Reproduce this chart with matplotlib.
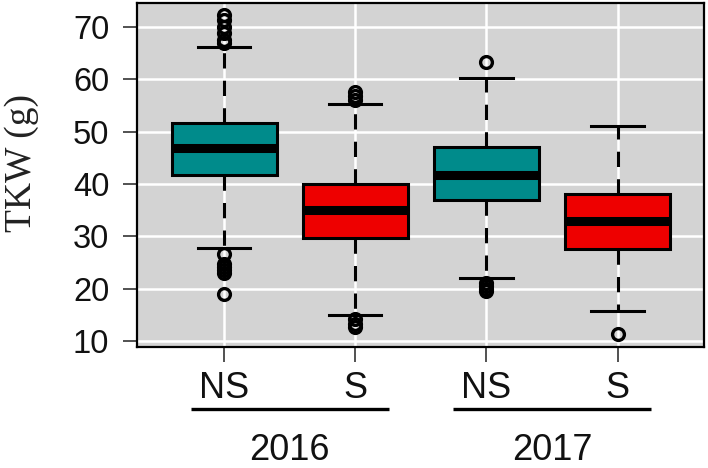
import matplotlib
matplotlib.use("Agg")
import matplotlib.pyplot as plt
import matplotlib.transforms as mtransforms

# ---- data ----
groups = ["NS", "S", "NS", "S"]
years = ["2016", "2017"]
q1 = [41.8, 29.7, 36.9, 27.5]
medians = [46.8, 35.0, 41.8, 32.9]
q3 = [51.6, 40.0, 47.1, 38.0]
whislo = [27.8, 15.1, 22.1, 15.7]
whishi = [66.2, 55.2, 60.2, 51.1]
fliers = [
    [72.3, 71.3, 70.0, 68.8, 67.5, 66.9, 26.6, 24.8, 24.2, 23.6, 23.1, 19.0],
    [57.6, 56.8, 56.0, 14.2, 13.3, 12.8],
    [63.3, 21.2, 20.5, 20.0, 19.6],
    [11.4],
]
colors = ["#008B8B", "#EE0000", "#008B8B", "#EE0000"]
yticks = [10, 20, 30, 40, 50, 60, 70]

positions = [1, 2, 3, 4]

fig = plt.figure(figsize=(7.08, 4.68), dpi=100)
ax = fig.add_axes([0.1935, 0.2585, 0.801, 0.735])
ax.set_facecolor("#D3D3D3")

stats = []
for i in range(len(groups)):
    stats.append(dict(q1=q1[i], med=medians[i], q3=q3[i],
                      whislo=whislo[i], whishi=whishi[i], fliers=fliers[i]))

bp = ax.bxp(stats, positions=positions, widths=0.8, capwidths=0.4,
            patch_artist=True, showfliers=True,
            boxprops=dict(edgecolor="black", linewidth=2.2),
            medianprops=dict(color="black", linewidth=6.5, solid_capstyle="butt"),
            whiskerprops=dict(color="black", linewidth=2.2, linestyle=(0, (5, 4))),
            capprops=dict(color="black", linewidth=2.2),
            flierprops=dict(marker="o", markersize=8.5, markerfacecolor="none",
                            markeredgecolor="black", markeredgewidth=2.4))
for patch, c in zip(bp["boxes"], colors):
    patch.set_facecolor(c)
for art in bp["boxes"] + bp["medians"] + bp["whiskers"] + bp["caps"] + bp["fliers"]:
    art.set_zorder(3)

ax.set_xlim(0.336, 4.66)
ax.set_ylim(8.9, 74.5)
ax.set_yticks(yticks)
ax.set_yticklabels([str(t) for t in yticks], fontsize=23.5, family="Liberation Sans",
                   color="#111111")
ax.set_xticks(positions)
ax.set_xticklabels(groups, fontsize=26, family="Liberation Sans", color="#111111")

ax.grid(True, color="white", linewidth=1.8, zorder=1)
ax.set_axisbelow(True)
ax.tick_params(axis="y", length=10, width=1.2, color="#333333", pad=10)
ax.tick_params(axis="x", length=11, width=1.2, color="#333333", pad=6)
for sp in ax.spines.values():
    sp.set_linewidth(1.6)
    sp.set_color("black")

# y-axis title
fig.text(22 / 708, 1 - 163 / 468, "TKW (g)", rotation=90, ha="center", va="center",
         fontsize=27, family="Liberation Serif", color="#222222")

# group underlines and year labels
trans = mtransforms.blended_transform_factory(ax.transData, fig.transFigure)
for k, yr in enumerate(years):
    center = (positions[2 * k] + positions[2 * k + 1]) / 2
    ax.plot([center - 0.755, center + 0.755], [1 - 409 / 468] * 2, color="black",
            linewidth=2.4, transform=trans, clip_on=False, solid_capstyle="butt")
    ax.text(center, 1 - 451 / 468, yr, transform=trans, ha="center", va="center",
            fontsize=26, family="Liberation Sans", color="#111111")

fig.savefig("out.png", dpi=100)
